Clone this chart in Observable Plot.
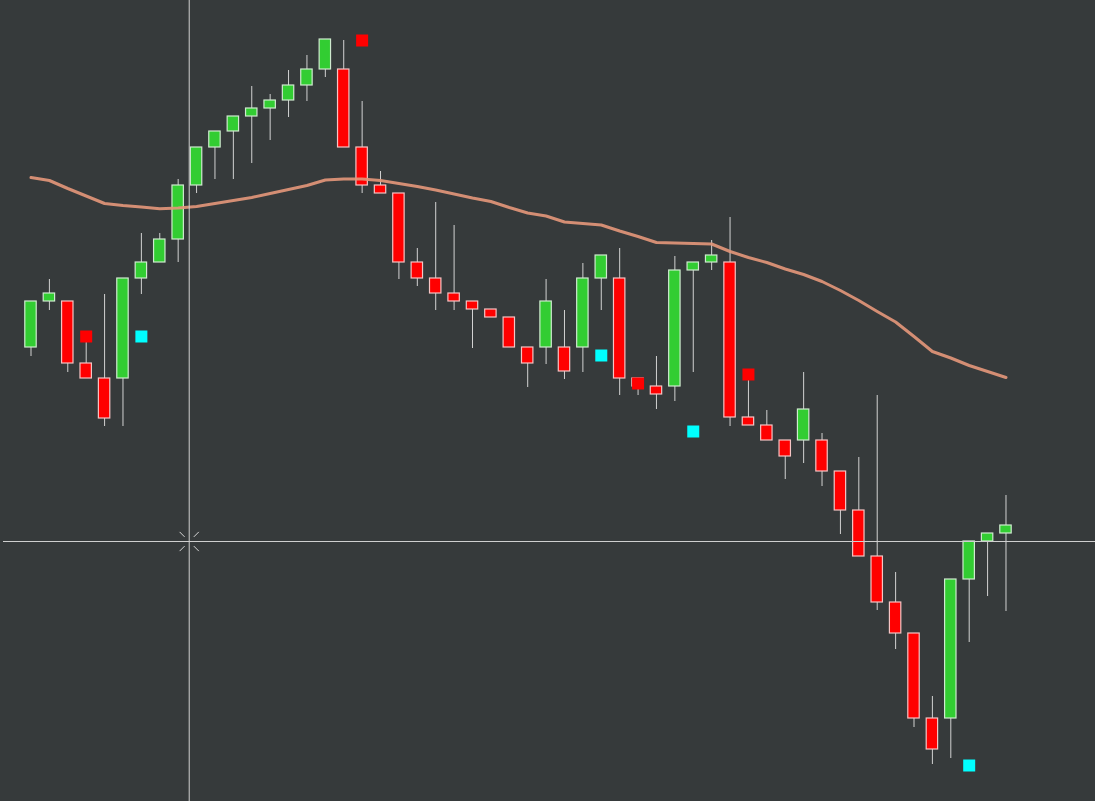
<!DOCTYPE html>
<html><head><meta charset="utf-8">
<script src="https://cdn.jsdelivr.net/npm/d3@7"></script>
<script src="https://cdn.jsdelivr.net/npm/@observablehq/plot@0.6"></script>
<style>html,body{margin:0;padding:0;background:#363a3b;overflow:hidden}#chart svg{display:block}</style>
</head><body><div id="chart"></div>
<script>
// OHLC per bar (price units)
const opens  = [454,500,500,438,423,423,523,539,562,616,654,670,685,693,701,716,732,732,654,616,608,539,523,508,500,492,484,454,454,454,454,523,523,423,415,415,531,539,539,384,376,361,361,361,330,291,245,199,168,83,83,222,260,268];
const highs  = [500,522,500,461,507,523,568,568,622,654,670,685,715,707,731,746,762,761,700,630,608,553,599,576,500,492,484,454,522,491,538,546,553,423,445,545,539,561,584,425,391,361,429,368,330,344,406,229,168,105,222,260,268,306];
const lows   = [445,491,429,423,375,375,507,539,539,608,622,622,638,661,684,700,724,654,608,608,522,515,491,491,453,484,454,414,437,422,429,491,406,406,392,400,429,531,375,376,361,322,338,315,267,245,191,152,74,37,43,159,205,190];
const closes = [500,508,438,423,383,523,539,562,616,654,670,685,693,701,716,732,762,654,616,608,539,523,508,500,492,484,454,438,500,430,523,546,423,415,407,531,539,546,384,376,361,345,392,330,291,245,199,168,83,52,222,260,268,276];
// moving average per bar
const maValues = [624,621,613,605.5,598,596,594.5,592.7,593.5,595,598,601,604,608,612,616,621.5,622.5,622.5,621,618,615,611.5,607.5,603.5,600,594,588.5,585.5,579.5,578,576.5,570.5,565,559,558.5,558,557.5,550,544,539,532.5,527,520,511,501,490,479.5,465,450,443.5,436,430,424];
// signal markers
const sellBars   = [3, 18, 33, 39];
const sellPrices = [465, 761, 418, 427];
const buyBars    = [6, 31, 36, 51];
const buyPrices  = [465, 446, 370, 36];
// crosshair position
const crossBar = 8.6;
const crossPrice = 260;

const candles = opens.map((o, i) => ({i, open: o, high: highs[i], low: lows[i], close: closes[i]}));
const ma = maValues.map((v, i) => ({i, v}));
const sells = sellBars.map((b, k) => ({i: b, p: sellPrices[k]}));
const buys = buyBars.map((b, k) => ({i: b, p: buyPrices[k]}));
const up = d => d.close >= d.open;

const cursorSymbol = {
  draw(ctx, size) {
    const a = 4.6, b = 9.6;
    for (const [sx, sy] of [[1,1],[1,-1],[-1,1],[-1,-1]]) {
      ctx.moveTo(sx * a, sy * a);
      ctx.lineTo(sx * b, sy * b);
    }
  }
};

const W = 1095, H = 801, ML = 3;
const first = 30.5, step = 18.396;
const chart = Plot.plot({
  width: W, height: H,
  marginLeft: ML, marginRight: 0, marginTop: 0, marginBottom: 0,
  style: {background: "#363a3b", overflow: "hidden"},
  x: {type: "linear", domain: [-(first - ML) / step, (W - first) / step], axis: null},
  y: {type: "linear", domain: [0, H], axis: null},
  marks: [
    Plot.ruleX(candles, {x: "i", y1: "low", y2: "high", stroke: "#d2d2d2", strokeWidth: 1}),
    Plot.rect(candles, {
      x1: d => d.i - 0.31, x2: d => d.i + 0.31, y1: "open", y2: "close",
      fill: d => up(d) ? "#32cd32" : "#ff0000",
      stroke: d => up(d) ? "#cfeacf" : "#f6c4c4",
      strokeWidth: 1.2
    }),
    Plot.line(ma, {x: "i", y: "v", stroke: "#e2967a", strokeWidth: 3, strokeOpacity: 0.92, curve: "linear"}),
    Plot.dot(sells, {x: "i", y: "p", symbol: "square", r: 6.77, fill: "#ff0000", stroke: "none"}),
    Plot.dot(buys, {x: "i", y: "p", symbol: "square", r: 6.77, fill: "#00ffff", stroke: "none"}),
    Plot.ruleX([crossBar], {stroke: "#cfcfcf", strokeWidth: 1}),
    Plot.ruleY([crossPrice], {stroke: "#cfcfcf", strokeWidth: 1}),
    Plot.dot([{x: crossBar, y: crossPrice}], {x: "x", y: "y", symbol: cursorSymbol, r: 5, stroke: "#d8d8d8", strokeWidth: 1, fill: "none"})
  ]
});
document.getElementById("chart").appendChild(chart);
</script>
</body></html>
